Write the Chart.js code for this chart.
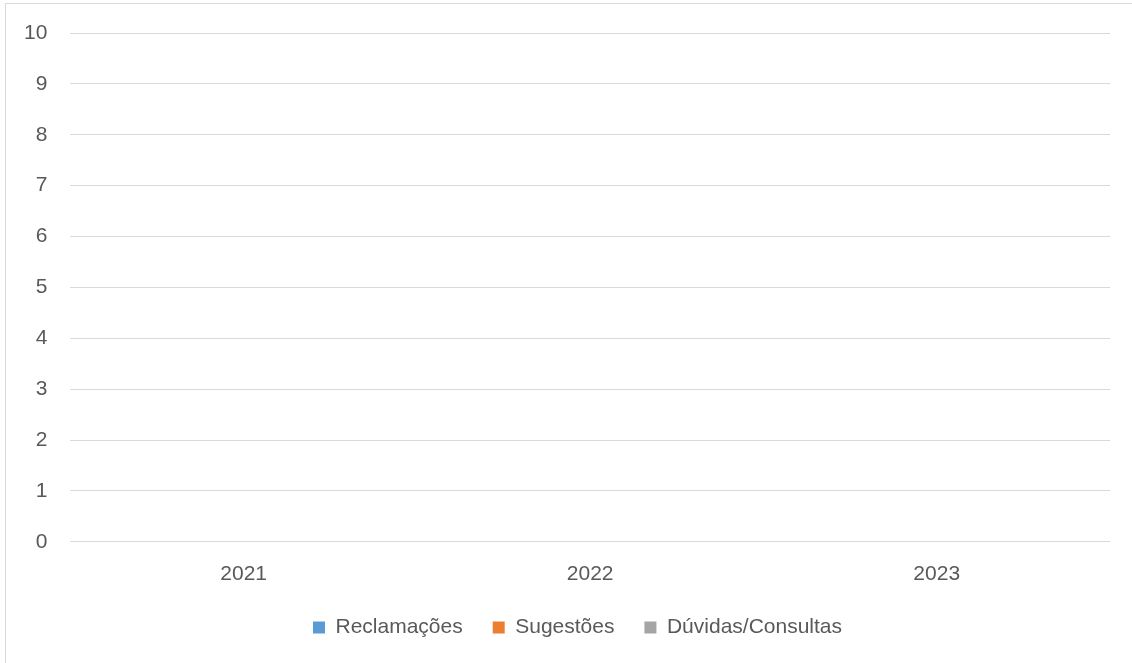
<!DOCTYPE html>
<html>
<head>
<meta charset="utf-8">
<script src="https://cdn.jsdelivr.net/npm/chart.js@4/dist/chart.umd.min.js"></script>
<style>
  html, body { margin: 0; padding: 0; background: #ffffff; overflow: hidden; }
  #frame { position: absolute; left: 5px; top: 3px; width: 1200px; height: 700px; border: 1px solid #d9d9d9; box-sizing: border-box; }
  #wrap { position: absolute; left: 0; top: 0; width: 1132px; height: 663px; }
</style>
</head>
<body>
<div id="frame"></div>
<div id="wrap"><canvas id="c" width="1132" height="663"></canvas></div>
<script>
const categories = ["2021", "2022", "2023"];
const reclamacoes = [0, 0, 0];
const sugestoes = [0, 0, 0];
const duvidas = [0, 0, 0];
const seriesNames = ["Reclamações", "Sugestões", "Dúvidas/Consultas"];
const yTicks = [0, 1, 2, 3, 4, 5, 6, 7, 8, 9, 10];

const FONT = "'Liberation Sans', Arial, sans-serif";
const TXT = "#595959";

const legendFix = {
  id: 'legendFix',
  beforeInit(chart) {
    const lg = chart.legend;
    if (lg && !lg._patched) {
      const fit = lg.fit;
      lg.fit = function () { fit.call(this); this.height -= 6; };
      lg._patched = true;
    }
  },
  afterLayout(chart) {
    const lg = chart.legend;
    if (lg) { lg.left += 22; lg.right += 22; }
  }
};

new Chart(document.getElementById('c'), {
  type: 'bar',
  data: {
    labels: categories,
    datasets: [
      { label: seriesNames[0], data: reclamacoes, backgroundColor: '#5b9bd5', borderWidth: 0 },
      { label: seriesNames[1], data: sugestoes, backgroundColor: '#ed7d31', borderWidth: 0 },
      { label: seriesNames[2], data: duvidas, backgroundColor: '#a5a5a5', borderWidth: 0 }
    ]
  },
  options: {
    responsive: false,
    animation: false,
    devicePixelRatio: 1,
    layout: { padding: { left: 1, right: 22, top: 33, bottom: 21 } },
    scales: {
      x: {
        grid: { display: false, drawTicks: false },
        border: { display: false },
        ticks: { color: TXT, font: { family: FONT, size: 21 }, padding: 20 },
        afterFit(s) { s.height -= 20; }
      },
      y: {
        min: 0, max: 10,
        afterBuildTicks(scale) { scale.ticks = yTicks.map(v => ({ value: v })); },
        afterFit(s) { s.paddingTop = 0; s.paddingBottom = 0; },
        grid: { color: '#d9d9d9', lineWidth: 1, drawTicks: false },
        border: { display: false },
        ticks: { color: TXT, font: { family: FONT, size: 21 }, padding: 23 }
      }
    },
    plugins: {
      tooltip: { enabled: false },
      legend: {
        position: 'bottom',
        labels: {
          color: TXT,
          font: { family: FONT, size: 21 },
          boxWidth: 12, boxHeight: 12,
          padding: 30
        }
      }
    }
  },
  plugins: [legendFix]
});
</script>
</body>
</html>
